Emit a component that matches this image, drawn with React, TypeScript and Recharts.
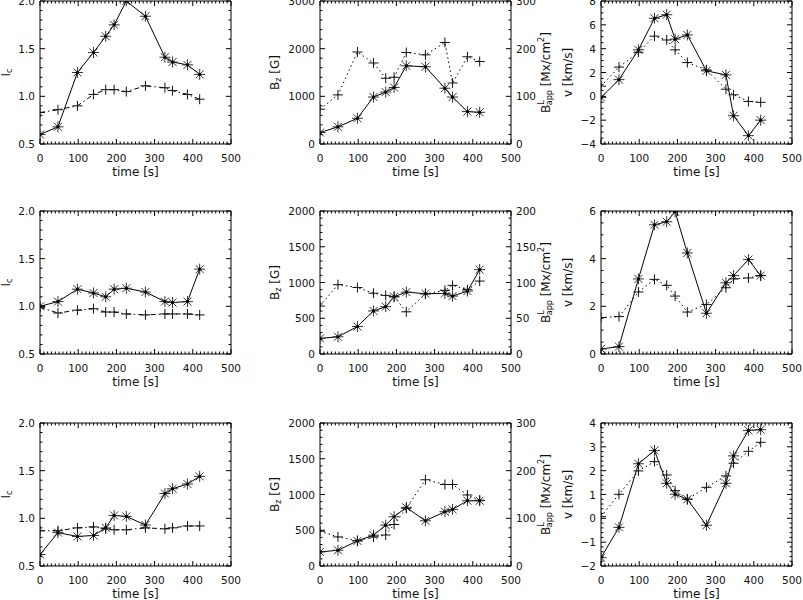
import React from "react";
import { Line, LineChart, XAxis, YAxis } from "recharts";

// sample times [s], shared by every panel
const time = [0, 47, 98, 140, 172, 194, 226, 276, 327, 347, 386, 418];

// row 1
const ic1Star = [0.6, 0.68, 1.25, 1.46, 1.63, 1.75, 2.0, 1.84, 1.41, 1.36, 1.33, 1.23];
const ic1Plus = [0.83, 0.86, 0.9, 1.02, 1.07, 1.07, 1.05, 1.11, 1.09, 1.06, 1.02, 0.97];
const bz1 = [240, 360, 540, 985, 1090, 1185, 1640, 1620, 1170, 985, 680, 665];
const bapp1 = [73, 103, 193, 170, 138, 140, 192, 187, 213, 128, 183, 173];
const v1Star = [-0.1, 1.4, 3.9, 6.55, 6.85, 4.8, 5.15, 2.14, 1.8, -1.63, -3.3, -2.0];
const v1Plus = [0.85, 2.45, 3.7, 5.05, 4.73, 3.9, 2.84, 2.22, 0.6, 0.13, -0.43, -0.5];

// row 2
const ic2Star = [1.0, 1.05, 1.18, 1.14, 1.1, 1.18, 1.19, 1.15, 1.05, 1.04, 1.05, 1.39];
const ic2Plus = [0.99, 0.93, 0.96, 0.975, 0.94, 0.94, 0.92, 0.91, 0.92, 0.92, 0.92, 0.91];
const bz2 = [218, 241, 384, 602, 662, 801, 866, 843, 847, 810, 880, 1180];
const bapp2 = [67, 97, 93, 85, 82, 80, 59, 84, 89, 96, 90, 102];
const v2Star = [0.21, 0.31, 3.15, 5.42, 5.55, 5.97, 4.24, 1.71, 2.99, 3.29, 3.96, 3.29];
const v2Plus = [1.53, 1.57, 2.6, 3.13, 2.88, 2.43, 1.76, 2.08, 2.78, 3.15, 3.19, 3.29];

// row 3
const ic3Star = [0.62, 0.85, 0.81, 0.82, 0.9, 1.03, 1.02, 0.93, 1.26, 1.31, 1.36, 1.44];
const ic3Plus = [0.87, 0.87, 0.9, 0.91, 0.89, 0.88, 0.88, 0.9, 0.89, 0.9, 0.92, 0.92];
const bz3 = [197, 220, 351, 431, 571, 689, 820, 632, 759, 792, 913, 913];
const bapp3 = [73, 61, 53, 61, 65, 87, 121, 181, 171, 171, 149, 138];
const v3Star = [-1.65, -0.38, 2.29, 2.85, 1.47, 1.01, 0.8, -0.29, 1.47, 2.62, 3.69, 3.72];
const v3Plus = [0.07, 1.01, 1.99, 2.38, 1.82, 1.16, 0.8, 1.3, 1.78, 2.31, 2.81, 3.19];

// major tick labels
const xMajors = [0, 100, 200, 300, 400, 500];
const icMajors = [0.5, 1.0, 1.5, 2.0];
const bz1Majors = [0, 1000, 2000, 3000];
const bzMajors = [0, 500, 1000, 1500, 2000];
const bapp300Majors = [0, 100, 200, 300];
const bapp200Majors = [0, 50, 100, 150, 200];
const v1Majors = [-4, -2, 0, 2, 4, 6, 8];
const v2Majors = [0, 2, 4, 6];
const v3Majors = [-2, -1, 0, 1, 2, 3, 4];

const FONT = '"DejaVu Sans", sans-serif';
const PW = 191;
const PH = 143;
const COLS = [40, 320, 601];
const ROWS = [1, 211, 423];
const AXIS = { stroke: "#000", strokeWidth: 1 };

const minorTicks = (majors: number[], step: number) => {
  const lo = majors[0];
  const n = Math.round((majors[majors.length - 1] - lo) / step);
  const out: number[] = [];
  for (let i = 0; i <= n; i++) out.push(+(lo + i * step).toFixed(6));
  return out;
};

const fmt1 = (v: number) => v.toFixed(1);
const fmtInt = (v: number) => String(Math.round(v)).replace("-", "\u2212");

type Side = "bottom" | "top" | "left" | "right";

function makeTick(side: Side, majors: number[], fmt?: (v: number) => string) {
  return (props: any) => {
    const { x, y, payload } = props;
    const v = payload.value;
    const major = majors.some((m) => Math.abs(m - v) < 1e-6);
    const len = major ? 5 : 2.5;
    let line = null;
    let label = null;
    if (side === "bottom") {
      line = <line x1={x} x2={x} y1={y} y2={y - len} stroke="#000" />;
      if (major && fmt)
        label = (
          <text x={x} y={y + 17.5} textAnchor="middle" fontSize={10.5} fontFamily={FONT} fill="#111">
            {fmt(v)}
          </text>
        );
    } else if (side === "top") {
      line = <line x1={x} x2={x} y1={y} y2={y + len} stroke="#000" />;
    } else if (side === "left") {
      line = <line x1={x} x2={x + len} y1={y} y2={y} stroke="#000" />;
      if (major && fmt)
        label = (
          <text x={x - 5} y={y} textAnchor="end" dominantBaseline="central" fontSize={10.5} fontFamily={FONT} fill="#111">
            {fmt(v)}
          </text>
        );
    } else {
      line = <line x1={x} x2={x - len} y1={y} y2={y} stroke="#000" />;
      if (major && fmt)
        label = (
          <text x={x + 5} y={y} textAnchor="start" dominantBaseline="central" fontSize={10.5} fontFamily={FONT} fill="#111">
            {fmt(v)}
          </text>
        );
    }
    return (
      <g>
        {line}
        {label}
      </g>
    );
  };
}

const renderStar = (p: any) => {
  const { cx, cy, index } = p;
  if (cx == null || cy == null) return <g key={`s${index}`} />;
  const r = 5.5;
  const d = 4;
  return (
    <g key={`s${index}`} stroke="#333" strokeWidth={1}>
      <line x1={cx - r} y1={cy} x2={cx + r} y2={cy} />
      <line x1={cx} y1={cy - r} x2={cx} y2={cy + r} />
      <line x1={cx - d} y1={cy - d} x2={cx + d} y2={cy + d} />
      <line x1={cx - d} y1={cy + d} x2={cx + d} y2={cy - d} />
      <circle cx={cx} cy={cy} r={1.6} fill="#000" stroke="none" />
    </g>
  );
};

const renderPlus = (p: any) => {
  const { cx, cy, index } = p;
  if (cx == null || cy == null) return <g key={`p${index}`} />;
  const r = 5;
  return (
    <g key={`p${index}`} stroke="#111" strokeWidth={1}>
      <line x1={cx - r} y1={cy} x2={cx + r} y2={cy} />
      <line x1={cx} y1={cy - r} x2={cx} y2={cy + r} />
    </g>
  );
};

type AxisSpec = { majors: number[]; minor: number; fmt: (v: number) => string };

function Panel(props: {
  left: number;
  top: number;
  star: number[];
  plus: number[];
  y: AxisSpec;
  right?: AxisSpec;
  dash: string;
}) {
  const { left, top, star, plus, y, right, dash } = props;
  const data = time.map((t, i) => ({ t, a: star[i], b: plus[i] }));
  // outer sizes around the plot box; each axis takes 1px of it
  const ML = 55;
  const MT = 8;
  const MR = 50;
  const MB = 42;
  const yDomain = [y.majors[0], y.majors[y.majors.length - 1]];
  const r = right || { ...y, fmt: undefined as any };
  const rDomain = [r.majors[0], r.majors[r.majors.length - 1]];
  const xTicks = minorTicks(xMajors, 10);
  const common = {
    interval: 0 as const,
    tickSize: 0,
    tickMargin: 0,
    tickLine: false,
    axisLine: AXIS,
    allowDataOverflow: true,
  };
  return (
    <div style={{ position: "absolute", left: left - ML, top: top - MT }}>
      <LineChart
        width={ML + PW + MR}
        height={MT + PH + MB}
        data={data}
        margin={{ top: MT - 1, right: MR - 1, bottom: MB - 1, left: ML - 1 }}
      >
        <XAxis
          {...common}
          dataKey="t"
          type="number"
          domain={[0, 500]}
          ticks={xTicks}
          height={1}
          tick={makeTick("bottom", xMajors, fmtInt)}
        />
        <XAxis
          {...common}
          xAxisId="top"
          orientation="top"
          dataKey="t"
          type="number"
          domain={[0, 500]}
          ticks={xTicks}
          height={1}
          tick={makeTick("top", xMajors)}
        />
        <YAxis
          {...common}
          yAxisId="l"
          type="number"
          domain={yDomain}
          ticks={minorTicks(y.majors, y.minor)}
          width={1}
          tick={makeTick("left", y.majors, y.fmt)}
        />
        <YAxis
          {...common}
          yAxisId="r"
          orientation="right"
          type="number"
          domain={rDomain}
          ticks={minorTicks(r.majors, r.minor)}
          width={1}
          tick={makeTick("right", r.majors, right ? right.fmt : undefined)}
        />
        <Line
          yAxisId="l"
          dataKey="a"
          type="linear"
          stroke="#000"
          strokeWidth={1}
          dot={renderStar}
          activeDot={false}
          isAnimationActive={false}
        />
        <Line
          yAxisId={right ? "r" : "l"}
          dataKey="b"
          type="linear"
          stroke="#000"
          strokeWidth={1}
          strokeDasharray={dash}
          dot={renderPlus}
          activeDot={false}
          isAnimationActive={false}
        />
      </LineChart>
    </div>
  );
}

const DASHDOT = "5 3 1.5 3";
const DOTTED = "1.5 3";

const icAxis: AxisSpec = { majors: icMajors, minor: 0.1, fmt: fmt1 };

function Titles() {
  const t = { fontFamily: FONT, fontSize: 12, fill: "#111" };
  const rot = (cx: number, cy: number) => `rotate(-90 ${cx} ${cy})`;
  return (
    <svg width={803} height={600} style={{ position: "absolute", left: 0, top: 0, pointerEvents: "none" }}>
      {ROWS.map((top) => {
        const cy = top + PH / 2;
        const c1 = COLS[0] - 34;
        const c2 = COLS[1] - 45;
        const c2r = COLS[1] + PW + 35;
        const c3 = COLS[2] - 33;
        return (
          <g key={top}>
            {COLS.map((left) => (
              <text key={left} x={left + PW / 2} y={top + PH + 31.5} textAnchor="middle" {...t}>
                time [s]
              </text>
            ))}
            <text x={c1} y={cy} textAnchor="middle" dominantBaseline="central" transform={rot(c1, cy)} {...t}>
              I<tspan fontSize={8} dy={3}>c</tspan>
            </text>
            <text x={c2} y={cy} textAnchor="middle" dominantBaseline="central" transform={rot(c2, cy)} {...t}>
              B<tspan fontSize={8} dy={3}>z</tspan>
              <tspan dy={-3}> [G]</tspan>
            </text>
            <text x={c2r} y={cy} textAnchor="middle" dominantBaseline="central" transform={rot(c2r, cy)} {...t}>
              B<tspan fontSize={8} dy={-5}>L</tspan>
              <tspan fontSize={8} dx={-5} dy={8}>app</tspan>
              <tspan dy={-3}> [Mx/cm</tspan>
              <tspan fontSize={8} dy={-5}>2</tspan>
              <tspan dy={5}>]</tspan>
            </text>
            <text x={c3} y={cy} textAnchor="middle" dominantBaseline="central" transform={rot(c3, cy)} {...t}>
              v [km/s]
            </text>
          </g>
        );
      })}
    </svg>
  );
}

export default function App() {
  return (
    <div style={{ position: "absolute", left: 0, top: 0, width: 803, height: 600, background: "#fff", overflow: "hidden" }}>
      <Panel left={COLS[0]} top={ROWS[0]} star={ic1Star} plus={ic1Plus} y={icAxis} dash={DASHDOT} />
      <Panel
        left={COLS[1]}
        top={ROWS[0]}
        star={bz1}
        plus={bapp1}
        y={{ majors: bz1Majors, minor: 200, fmt: fmtInt }}
        right={{ majors: bapp300Majors, minor: 20, fmt: fmtInt }}
        dash={DOTTED}
      />
      <Panel left={COLS[2]} top={ROWS[0]} star={v1Star} plus={v1Plus} y={{ majors: v1Majors, minor: 0.5, fmt: fmtInt }} dash={DOTTED} />

      <Panel left={COLS[0]} top={ROWS[1]} star={ic2Star} plus={ic2Plus} y={icAxis} dash={DASHDOT} />
      <Panel
        left={COLS[1]}
        top={ROWS[1]}
        star={bz2}
        plus={bapp2}
        y={{ majors: bzMajors, minor: 100, fmt: fmtInt }}
        right={{ majors: bapp200Majors, minor: 10, fmt: fmtInt }}
        dash={DOTTED}
      />
      <Panel left={COLS[2]} top={ROWS[1]} star={v2Star} plus={v2Plus} y={{ majors: v2Majors, minor: 0.5, fmt: fmtInt }} dash={DOTTED} />

      <Panel left={COLS[0]} top={ROWS[2]} star={ic3Star} plus={ic3Plus} y={icAxis} dash={DASHDOT} />
      <Panel
        left={COLS[1]}
        top={ROWS[2]}
        star={bz3}
        plus={bapp3}
        y={{ majors: bzMajors, minor: 100, fmt: fmtInt }}
        right={{ majors: bapp300Majors, minor: 20, fmt: fmtInt }}
        dash={DOTTED}
      />
      <Panel left={COLS[2]} top={ROWS[2]} star={v3Star} plus={v3Plus} y={{ majors: v3Majors, minor: 0.2, fmt: fmtInt }} dash={DOTTED} />

      <Titles />
    </div>
  );
}
